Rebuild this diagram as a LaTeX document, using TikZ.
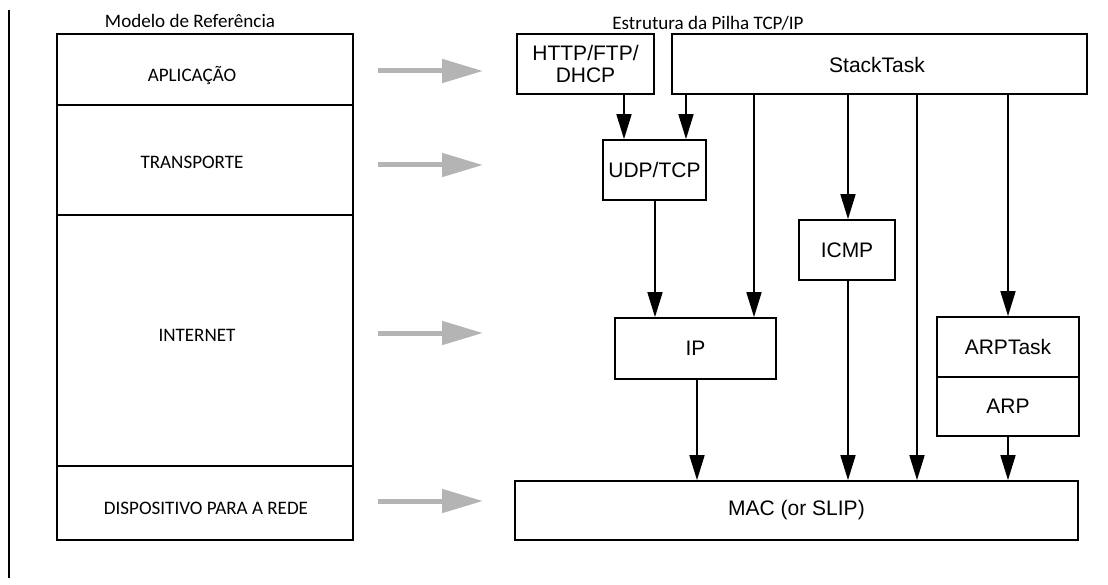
\documentclass[tikz,border=0pt]{standalone}
\usepackage{fontspec}
\setmainfont{Carlito}
\newfontfamily\arialf{Liberation Sans}
\usetikzlibrary{arrows.meta}
\definecolor{arrgray}{HTML}{B4B4B4}
\begin{document}
\begin{tikzpicture}[x=0.75pt,y=-0.75pt,
  sz/.style args={#1/#2}{minimum width=#1*0.75pt,minimum height=#2*0.75pt},
  layer/.style={draw=black,line width=1.3pt,inner sep=0pt},
  box/.style={draw=black,line width=1.3pt,inner sep=0pt,align=center,
    font=\arialf\fontsize{15.75}{16.5}\selectfont},
  lbl/.style={anchor=base,inner sep=0pt,font=\fontsize{14.3}{16}\selectfont},
  arr/.style={line width=1.3pt,-{Triangle[length=18.75pt,width=11.25pt]}},
  grayarr/.style={draw=arrgray,line width=3.75pt,-{Triangle[length=30.75pt,width=17.25pt,fill=arrgray]}}
]
\useasboundingbox (0,0) rectangle (1108,585);
% left vertical line
\coordinate (vt) at (9,10);
\coordinate (vb) at (9,578);
\draw[line width=1.4pt] (vt) -- (vb);

% reference model layers
\node[layer,sz=296/71] (app) at (205,69.5) {};
\node[layer,sz=296/110] (trans) at (205,160) {};
\node[layer,sz=296/251] (inet) at (205,340.5) {};
\node[layer,sz=296/74] (disp) at (205,503) {};
\node[lbl] (tmodel) at (190,28) {Modelo de Referência};
\node[lbl] (tapp) at (192,82) {APLICAÇÃO};
\node[lbl] (ttrans) at (192,168) {TRANSPORTE};
\node[lbl] (tinet) at (197,341) {INTERNET};
\node[lbl] (tdisp) at (206,514) {DISPOSITIVO PARA A REDE};

% gray arrows
\coordinate (g1s) at (378,71);  \coordinate (g1e) at (483,71);
\coordinate (g2s) at (378,165); \coordinate (g2e) at (483,165);
\coordinate (g3s) at (378,333); \coordinate (g3e) at (483,333);
\coordinate (g4s) at (378,501); \coordinate (g4e) at (483,501);
\draw[grayarr] (g1s) -- (g1e);
\draw[grayarr] (g2s) -- (g2e);
\draw[grayarr] (g3s) -- (g3e);
\draw[grayarr] (g4s) -- (g4e);

% TCP/IP stack
\node[lbl] (tstack) at (708,30) {Estrutura da Pilha TCP/IP};
\node[box,sz=137/60] (http) at (585.5,64) {HTTP/FTP/\\DHCP};
\node[box,sz=415/60] (stack) at (879.5,64) {};
\node[box,draw=none] (tst) at (877,65) {StackTask};
\node[box,sz=103/60] (udp) at (654.5,170) {UDP/TCP};
\node[box,sz=161/61] (ip) at (695.5,348.5) {IP};
\node[box,sz=96/60] (icmp) at (847,250) {ICMP};
\node[box,sz=142/60] (arptask) at (1008,347) {ARPTask};
\node[box,sz=142/59] (arp) at (1008,406.5) {ARP};
\node[box,sz=563/59] (mac) at (796.5,510.5) {MAC (or SLIP)};

% connector columns
\coordinate (xa) at (624,0);
\coordinate (xb) at (686,0);
\coordinate (xc) at (655,0);
\coordinate (xd) at (754,0);
\coordinate (xe) at (848,0);
\coordinate (xf) at (917,0);
\coordinate (xg) at (1008,0);
\coordinate (xh) at (697,0);

\draw[arr] (xa |- http.south) -- (xa |- udp.north);
\draw[arr] (xb |- stack.south) -- (xb |- udp.north);
\draw[arr] (xc |- udp.south) -- (xc |- ip.north);
\draw[arr] (xd |- stack.south) -- (xd |- ip.north);
\draw[arr] (xe |- stack.south) -- (xe |- icmp.north);
\draw[arr] (xe |- icmp.south) -- (xe |- mac.north);
\draw[arr] (xf |- stack.south) -- (xf |- mac.north);
\draw[arr] (xg |- stack.south) -- (xg |- arptask.north);
\draw[arr] (xh |- ip.south) -- (xh |- mac.north);
\draw[arr] (xg |- arp.south) -- (xg |- mac.north);
\end{tikzpicture}
\end{document}
